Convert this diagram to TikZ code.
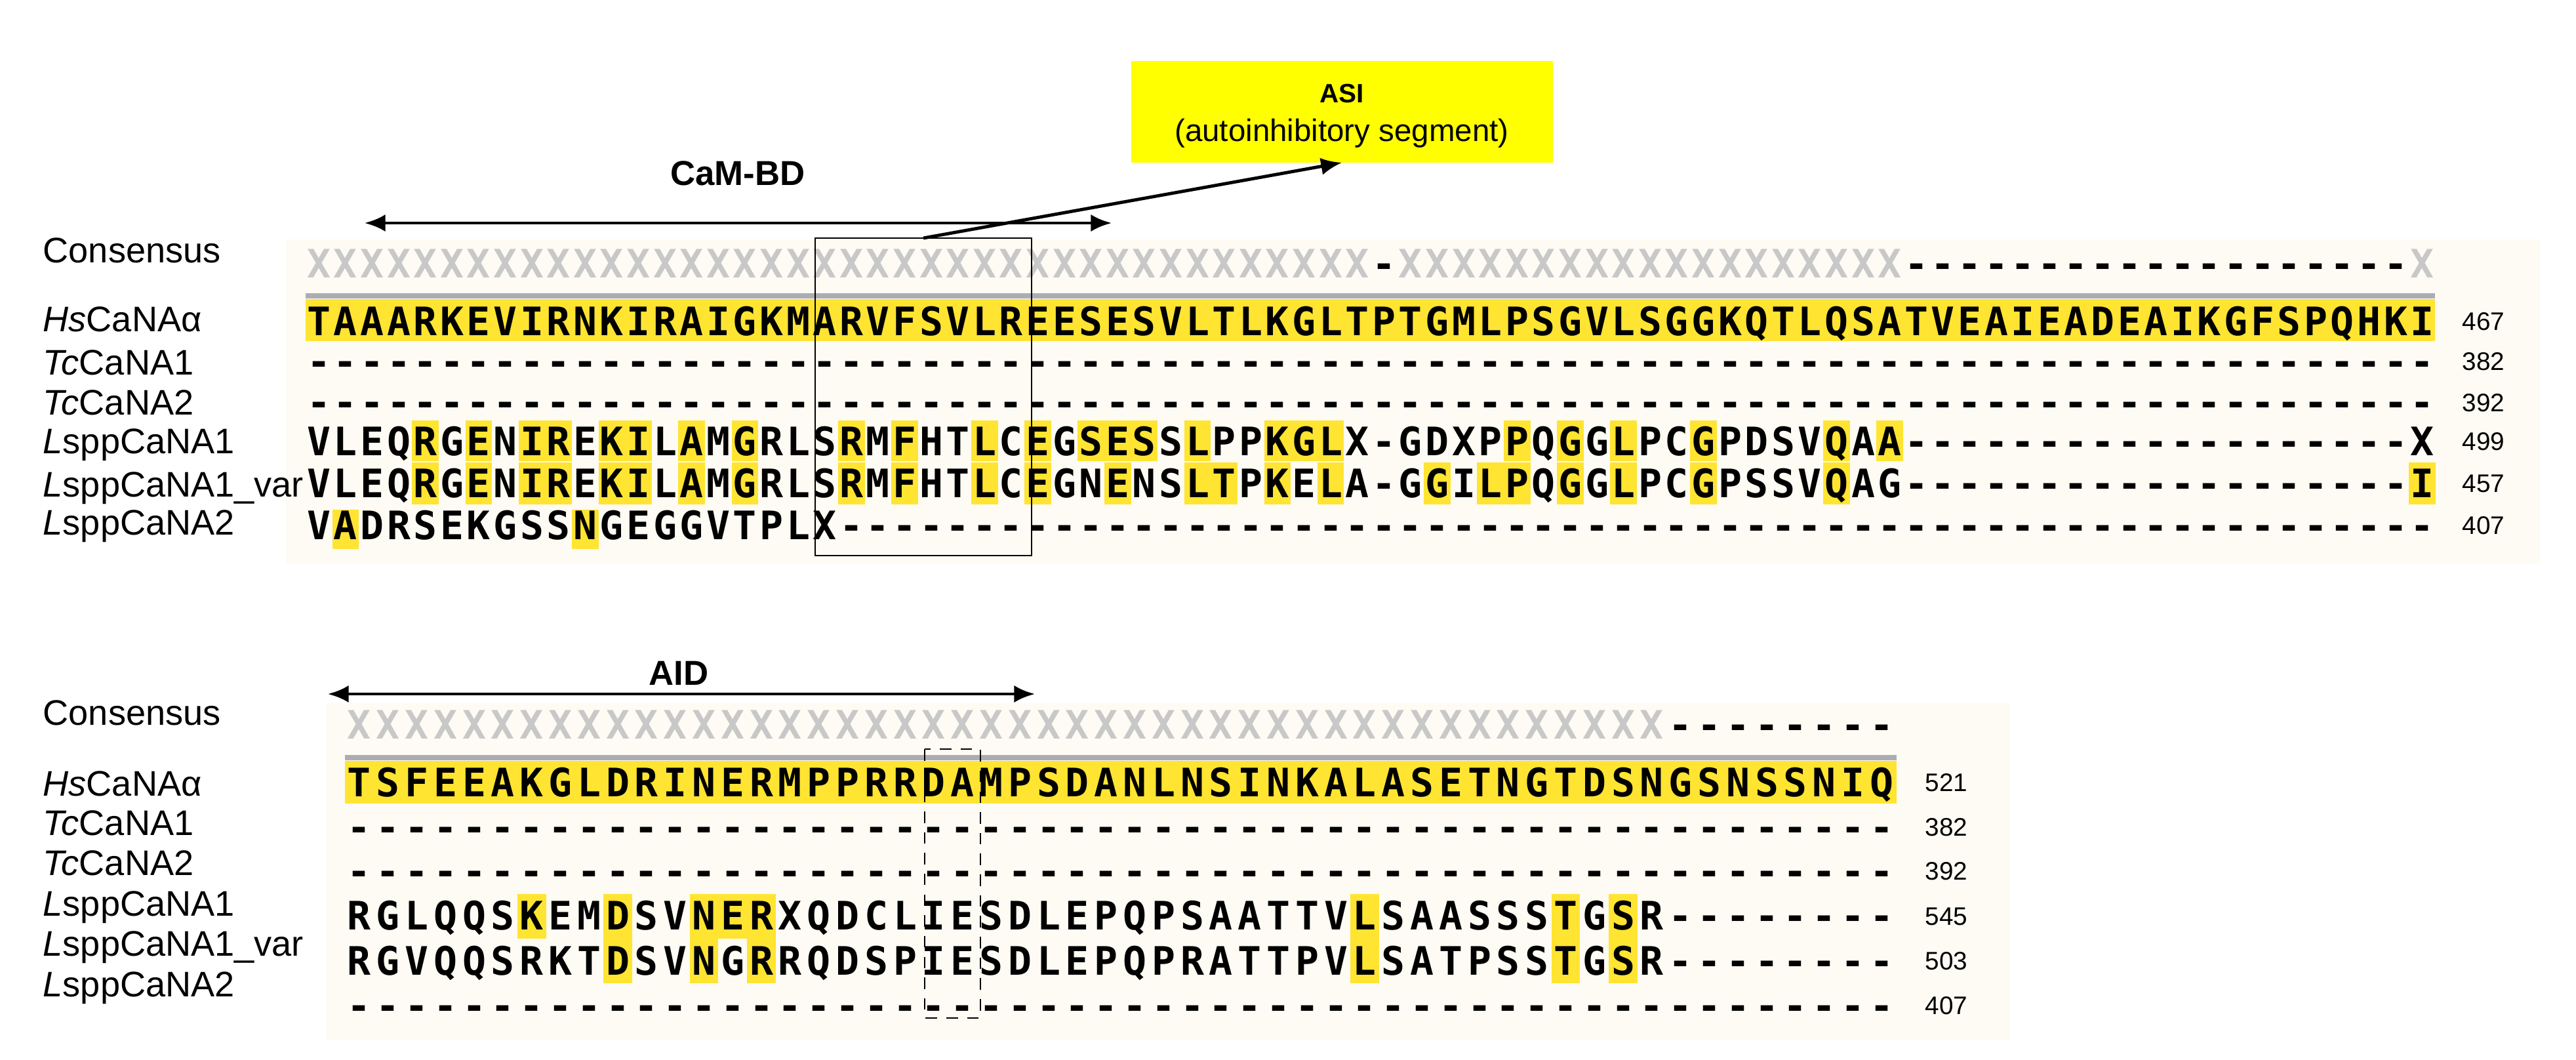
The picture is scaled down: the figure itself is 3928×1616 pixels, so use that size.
\documentclass[tikz,border=0pt]{standalone}
\usepackage{fontspec}
\setmainfont{Liberation Sans}
\newfontfamily\seqfont{DejaVu Sans Mono}
\usetikzlibrary{arrows.meta}
\definecolor{hl}{RGB}{255,228,50}
\definecolor{asiy}{RGB}{255,255,0}
\definecolor{panel}{RGB}{253,251,243}
\definecolor{xgray}{RGB}{200,200,200}
\definecolor{lgray}{RGB}{172,172,180}
\makeatletter
\newcount\sqi
\newcommand\seqrow[6]{%
 \global\sqi=0
 \@tfor\sq@c:=#4\do{%
  \if-\sq@c\def\sq@col{black}\else\def\sq@col{#5}\fi
  \node[seqch,text=\sq@col] (#6-\the\sqi) at ({#1+(\the\sqi+0.5)*#3},{#2+22}) {\sq@c};%
  \global\advance\sqi by 1 }}
\makeatother
\tikzset{
 seqch/.style={inner sep=0pt,anchor=base,font=\seqfont\bfseries\fontsize{17}{17}\selectfont},
 lab/.style={inner sep=0pt,anchor=base west,font=\fontsize{15.4}{16}\selectfont},
 num/.style={inner sep=0pt,anchor=base west,font=\fontsize{11}{12}\selectfont},
 head/.style={inner sep=0pt,font=\bfseries\fontsize{15}{16}\selectfont},
 arr/.style={line width=1.4pt,-{Latex[length=9pt,width=7.5pt]}},
 darr/.style={line width=1.4pt,{Latex[length=9pt,width=7.5pt]}-{Latex[length=9pt,width=7.5pt]}},
}
\begin{document}
\begin{tikzpicture}[x=0.01cm,y=-0.01cm]
\useasboundingbox (0,0) rectangle (3928,1616);
% panels
\fill[panel] (436,365) rectangle (3873,859);
\fill[panel] (498,1072) rectangle (3064,1586);
% ---------- top block ----------
\def\xa{466}\def\wa{40.6}
\fill[lgray] (466,447) rectangle (3713,455);
\fill[hl] (466,456) rectangle (3713,520);
\foreach \i in {4,6,8,9,11,12,14,16,20,22,25,27,29,30,31,33,36,37,38,45,47,49,52,57,59}
  \fill[hl] ({\xa+\i*\wa},641) rectangle ++(\wa,62);
\foreach \i in {4,6,8,9,11,12,14,16,20,22,25,27,30,33,34,36,38,42,44,45,47,49,52,57,79}
  \fill[hl] ({\xa+\i*\wa},705) rectangle ++(\wa,64);
\foreach \i in {1,10}
  \fill[hl] ({\xa+\i*\wa},777) rectangle ++(\wa,60);
\seqrow{\xa}{402}{\wa}{XXXXXXXXXXXXXXXXXXXXXXXXXXXXXXXXXXXXXXXX-XXXXXXXXXXXXXXXXXXX-------------------X}{xgray}{tc}
\seqrow{\xa}{490}{\wa}{TAAARKEVIRNKIRAIGKMARVFSVLREESESVLTLKGLTPTGMLPSGVLSGGKQTLQSATVEAIEADEAIKGFSPQHKI}{black}{th}
\seqrow{\xa}{551}{\wa}{--------------------------------------------------------------------------------}{black}{tt1}
\seqrow{\xa}{613}{\wa}{--------------------------------------------------------------------------------}{black}{tt2}
\seqrow{\xa}{672}{\wa}{VLEQRGENIREKILAMGRLSRMFHTLCEGSESSLPPKGLX-GDXPPQGGLPCGPDSVQAA-------------------X}{black}{tl1}
\seqrow{\xa}{736}{\wa}{VLEQRGENIREKILAMGRLSRMFHTLCEGNENSLTPKELA-GGILPQGGLPCGPSSVQAG-------------------I}{black}{tv}
\seqrow{\xa}{800}{\wa}{VADRSEKGSSNGEGGVTPLX------------------------------------------------------------}{black}{tl2}
% labels top
\node[lab] (lc1) at (65,401) {Consensus};
\node[lab] (lh1) at (65,506) {\textit{Hs}CaNAα};
\node[lab] (lt11) at (65,572) {\textit{Tc}CaNA1};
\node[lab] (lt21) at (65,633) {\textit{Tc}CaNA2};
\node[lab] (ll11) at (65,692) {\textit{L}sppCaNA1};
\node[lab] (lv1) at (65,757) {\textit{L}sppCaNA1\_var};
\node[lab] (ll21) at (65,815) {\textit{L}sppCaNA2};
% numbers top
\foreach \n/\y [count=\k] in {467/490,382/551,392/613,499/672,457/736,407/800}
  \node[num] (nt\k) at (3754,\y+14) {\n};
% box and arrows top
\draw[line width=0.8pt] (1243,363) rectangle (1573,847);
\coordinate (cl) at (556,340); \coordinate (cr) at (1695,340);
\draw[darr] (cl) -- (cr);
\node[head] (cam) at (1125,264) {CaM-BD};
\node[fill=asiy,minimum width=643*0.01cm,minimum height=155*0.01cm,inner sep=0pt] (asi) at (2046.5,170.5) {};
\node[inner sep=0pt,font=\bfseries\fontsize{11.5}{12}\selectfont] (asit) at (2046,143) {ASI};
\node[inner sep=0pt,font=\fontsize{13.5}{14}\selectfont] (asis) at (2046,203) {(autoinhibitory segment)};
\coordinate (as0) at (1408,363); \coordinate (as1) at (2046,248);
\draw[arr] (as0) -- (as1);
% ---------- bottom block ----------
\def\xb{526}\def\wb{43.8}
\fill[lgray] (526,1151) rectangle (2892,1159);
\fill[hl] (526,1160) rectangle (2892,1225);
\foreach \i in {6,9,12,13,14,35,42,44}
  \fill[hl] ({\xb+\i*\wb},1363) rectangle ++(\wb,68);
\foreach \i in {9,12,14,35,42,44}
  \fill[hl] ({\xb+\i*\wb},1431) rectangle ++(\wb,68);
\seqrow{\xb}{1104}{\wb}{XXXXXXXXXXXXXXXXXXXXXXXXXXXXXXXXXXXXXXXXXXXXXX--------}{xgray}{bc}
\seqrow{\xb}{1192}{\wb}{TSFEEAKGLDRINERMPPRRDAMPSDANLNSINKALASETNGTDSNGSNSSNIQ}{black}{bh}
\seqrow{\xb}{1260}{\wb}{------------------------------------------------------}{black}{bt1}
\seqrow{\xb}{1327}{\wb}{------------------------------------------------------}{black}{bt2}
\seqrow{\xb}{1395}{\wb}{RGLQQSKEMDSVNERXQDCLIESDLEPQPSAATTVLSAASSSTGSR--------}{black}{bl1}
\seqrow{\xb}{1464}{\wb}{RGVQQSRKTDSVNGRRQDSPIESDLEPQPRATTPVLSATPSSTGSR--------}{black}{bv}
\seqrow{\xb}{1532}{\wb}{------------------------------------------------------}{black}{bl2}
% labels bottom
\node[lab] (lc2) at (65,1105) {Consensus};
\node[lab] (lh2) at (65,1213) {\textit{Hs}CaNAα};
\node[lab] (lt12) at (65,1273) {\textit{Tc}CaNA1};
\node[lab] (lt22) at (65,1334) {\textit{Tc}CaNA2};
\node[lab] (ll12) at (65,1396) {\textit{L}sppCaNA1};
\node[lab] (lv2) at (65,1457) {\textit{L}sppCaNA1\_var};
\node[lab] (ll22) at (65,1519) {\textit{L}sppCaNA2};
\foreach \n/\y [count=\k] in {521/1192,382/1260,392/1327,545/1396,503/1464,407/1532}
  \node[num] (nb\k) at (2935,\y+14) {\n};
\draw[line width=0.8pt,dashed,dash pattern=on 5pt off 4pt] (1410,1142) rectangle (1495,1552);
\coordinate (al) at (500,1058); \coordinate (ar) at (1578,1058);
\draw[darr] (al) -- (ar);
\node[head] (aid) at (1035,1026) {AID};
\end{tikzpicture}
\end{document}
